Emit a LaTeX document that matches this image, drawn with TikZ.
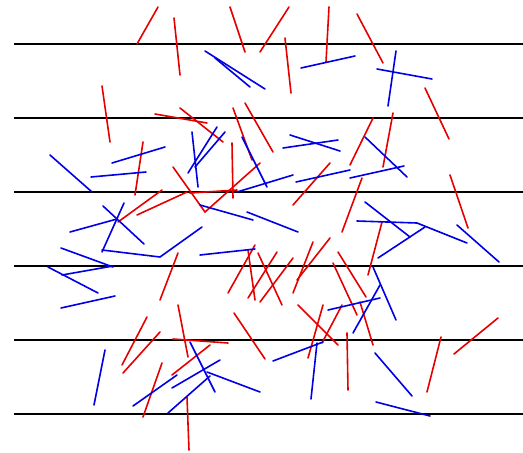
\documentclass[tikz,border=0pt]{standalone}
\begin{document}
\begin{tikzpicture}[x=1pt,y=-1pt,
  floor/.style={black,line width=1.8pt},
  rneedle/.style={draw=red!90!black,line width=1.6pt,line cap=round},
  bneedle/.style={draw=blue!90!black,line width=1.6pt,line cap=round}]
\useasboundingbox (0,0) rectangle (523,453);
% floor lines
\foreach \y in {44,118,192,266,340,414} \draw[floor] (14,\y) -- (523,\y);
% red needles
\foreach \a/\b/\c/\d in {
158/7/137/44, 174/18/180/75, 102/86/110/142, 230/7/245/52, 289/7/260/52,
285/38/291/93, 329/7/326/62, 357/14/383/63, 425/88/449/139,
155/114/207/123, 180/108/223/142, 233/108/252/160, 245/103/273/152,
143/142/135/195, 232/143/233/198, 173/167/205/212, 205/212/260/163,
190/193/237/190, 118/222/162/190, 137/215/187/192, 330/163/293/205,
362/178/342/232, 373/118/350/165, 393/113/383/167, 450/175/468/228,
382/222/368/275, 160/300/178/253,
255/245/228/293, 248/250/255/300, 258/253/282/305, 277/252/248/298,
293/258/260/302, 313/242/293/293, 330/238/297/280, 338/252/366/297,
333/263/357/315, 360/302/373/345,
147/317/122/365, 160/332/123/373, 162/363/143/417, 178/305/188/357,
173/339/228/343, 210/345/172/375, 187/397/189/450, 234/313/265/359,
323/305/308/358, 298/305/338/345, 342/305/322/343, 347/333/348/390,
441/337/427/392, 498/318/454/354}
  \draw[rneedle] (\a,\b) -- (\c,\d);
% blue needles
\foreach \a/\b/\c/\d in {
205/51/265/89, 215/58/250/87, 301/68/355/56, 377/69/432/79, 396/51/388/106,
192/132/198/187, 217/127/188/173, 225/132/195/167, 242/137/267/187,
290/135/340/151, 283/148/338/140, 365/137/407/177,
296/182/350/170, 350/178/404/166, 237/192/293/175,
200/205/253/220, 247/212/298/232, 200/255/255/249,
50/155/92/192, 112/163/165/147, 91/177/146/172,
103/206/144/244, 124/203/102/252, 70/232/117/219, 102/250/160/257, 160/257/202/227,
61/248/113/267, 48/267/98/293, 62/275/113/266, 61/308/115/296,
365/202/410/237, 357/221/417/223, 417/223/467/243, 378/258/425/227, 457/225/499/262,
373/267/396/320, 380/285/353/333, 328/310/380/298,
375/353/412/396, 376/402/430/416,
273/361/323/342, 317/343/311/399,
105/350/94/405, 133/406/177/375, 172/388/220/360, 168/413/210/376,
190/342/215/392, 207/372/260/392}
  \draw[bneedle] (\a,\b) -- (\c,\d);
\end{tikzpicture}
\end{document}
